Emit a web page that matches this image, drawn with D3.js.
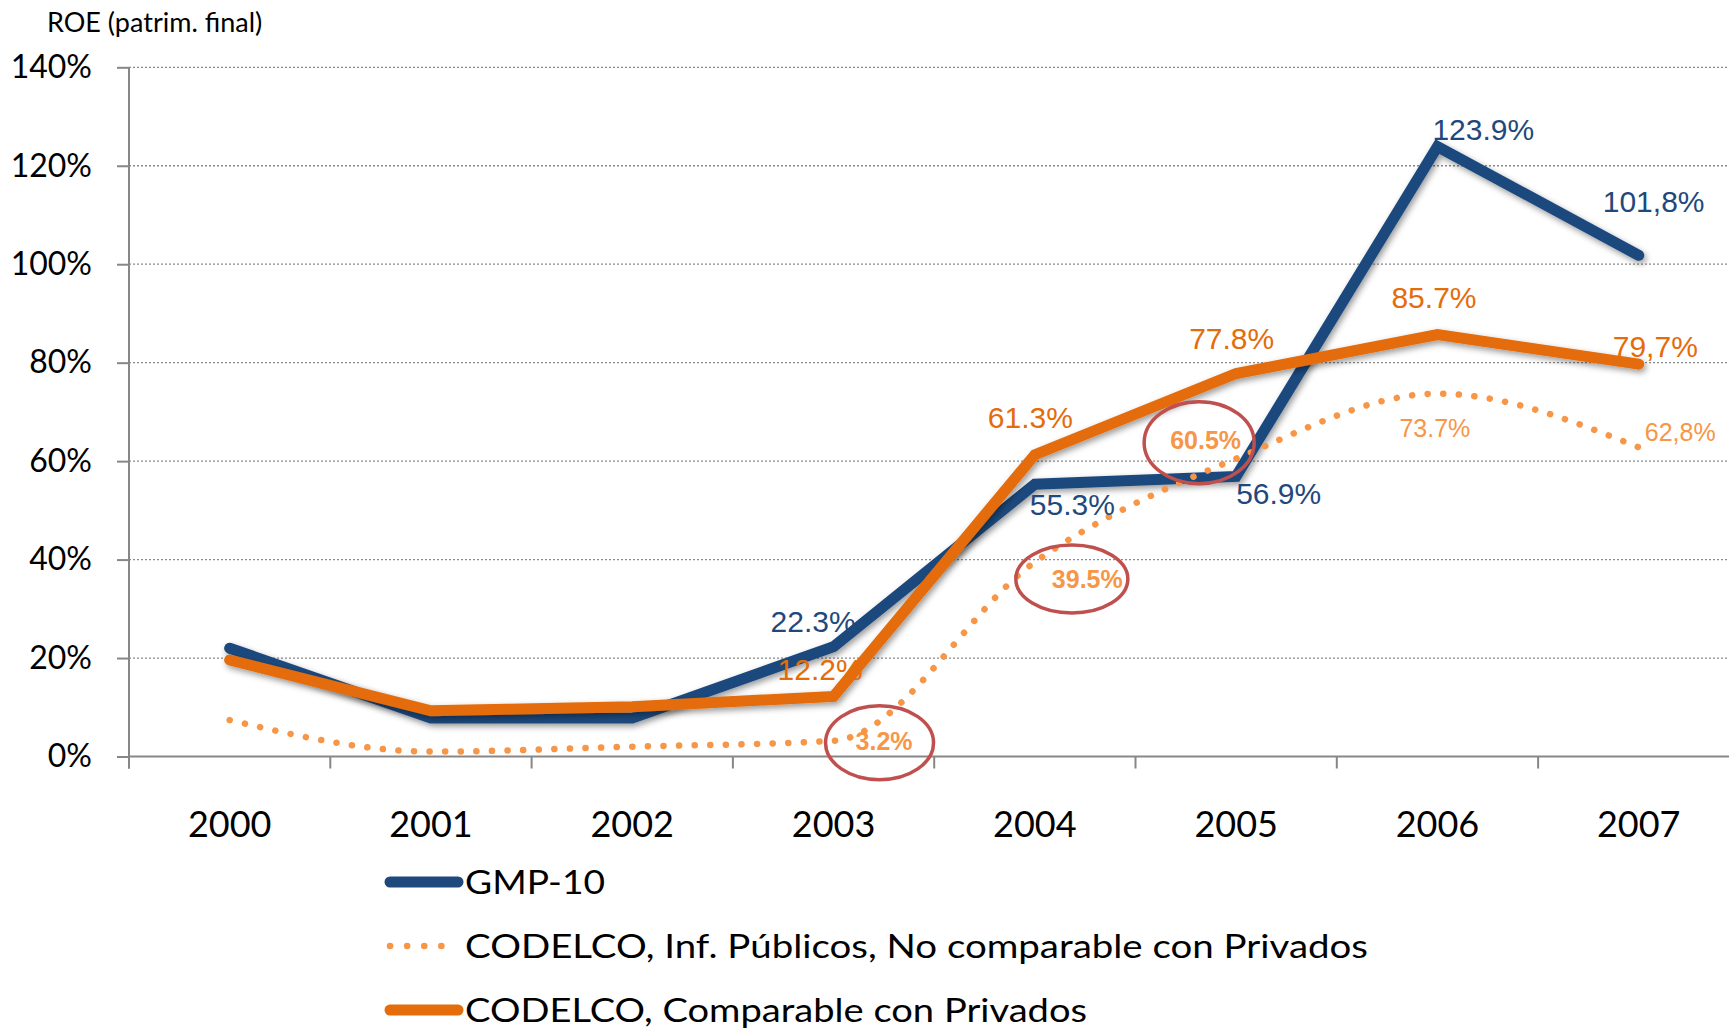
<!DOCTYPE html>
<html>
<head>
<meta charset="utf-8">
<script src="https://cdn.jsdelivr.net/npm/d3@7"></script>
<style>
  html, body { margin: 0; padding: 0; background: #fff; }
  svg { display: block; }
</style>
</head>
<body>
<div id="chart"></div>
<script>
// Data
const years = ['2000', '2001', '2002', '2003', '2004', '2005', '2006', '2007'];
const gmp10 = [22.0, 7.8, 7.8, 22.3, 55.3, 56.9, 123.9, 101.8];
const codelcoPublic = [7.4, 1.0, 2.0, 3.2, 39.5, 60.5, 73.7, 62.8];
const codelcoComparable = [19.6, 9.3, 10.1, 12.2, 61.3, 77.8, 85.7, 79.7];
const gmp10Labels = [null, null, null, '22.3%', '55.3%', '56.9%', '123.9%', '101,8%'];
const publicLabels = [null, null, null, '3.2%', '39.5%', '60.5%', '73.7%', '62,8%'];
const comparableLabels = [null, null, null, '12.2%', '61.3%', '77.8%', '85.7%', '79,7%'];
const yTicks = [0, 20, 40, 60, 80, 100, 120, 140];
const legendNames = ['GMP-10', 'CODELCO, Inf. Públicos, No comparable con Privados', 'CODELCO, Comparable con Privados'];

const W = 1729, H = 1030;
const BLUE = '#1f497d', ORANGE = '#e46c0a', LIGHT = '#f79646', RED = '#c0504d', AXIS = '#878787';

const svg = d3.select('#chart').append('svg').attr('width', W).attr('height', H);

const defs = svg.append('defs');
const shadow = defs.append('filter').attr('id', 'shadow')
  .attr('x', '-10%').attr('y', '-10%').attr('width', '120%').attr('height', '130%');
shadow.append('feDropShadow').attr('dx', 2).attr('dy', 3).attr('stdDeviation', 3)
  .attr('flood-color', '#000').attr('flood-opacity', 0.4);

// Scales
const left = 129, band = 201.3;
const x = d3.scaleBand().domain(years).range([left, left + band * years.length]).padding(0);
const cx = (i) => x(years[i]) + x.bandwidth() / 2;
const y = d3.scaleLinear().domain([0, 140]).range([756.5, 67.3]);

// Gridlines
svg.append('g').selectAll('line').data(yTicks.filter((d) => d > 0)).enter().append('line')
  .attr('x1', left).attr('x2', W).attr('y1', (d) => y(d)).attr('y2', (d) => y(d))
  .attr('stroke', '#8a8a8a').attr('stroke-width', 1.3).attr('stroke-dasharray', '2 2');

// Y axis
const yAxis = svg.append('g').attr('transform', `translate(${left},0)`)
  .call(d3.axisLeft(y).tickValues(yTicks).tickSize(12).tickPadding(25).tickFormat((d) => d + '%'));
yAxis.select('.domain').remove();
yAxis.selectAll('line').attr('stroke', AXIS).attr('stroke-width', 2);
yAxis.selectAll('text').attr('font-family', 'Lato, sans-serif').attr('font-size', 32).attr('fill', '#000');
svg.append('line').attr('x1', left).attr('x2', left).attr('y1', y(140)).attr('y2', y(0) + 12)
  .attr('stroke', AXIS).attr('stroke-width', 2);

// X axis
svg.append('line').attr('x1', left).attr('x2', W).attr('y1', y(0)).attr('y2', y(0))
  .attr('stroke', AXIS).attr('stroke-width', 2);
svg.append('g').selectAll('line').data(d3.range(years.length + 1)).enter().append('line')
  .attr('x1', (d) => left + d * band).attr('x2', (d) => left + d * band)
  .attr('y1', y(0)).attr('y2', y(0) + 12)
  .attr('stroke', AXIS).attr('stroke-width', 2);
const xAxis = svg.append('g').attr('transform', `translate(0,${y(0)})`)
  .call(d3.axisBottom(x).tickSize(0).tickPadding(80));
xAxis.select('.domain').remove();
xAxis.selectAll('text').attr('font-family', 'Lato, sans-serif').attr('font-size', 36).attr('fill', '#000')
  .attr('dy', 0);

// Title
svg.append('text').attr('x', 47).attr('y', 32).text('ROE (patrim. final)')
  .attr('font-family', 'Lato, sans-serif').attr('font-size', 27).attr('fill', '#000');

// Lines
const straight = d3.line().x((d, i) => cx(i)).y((d) => y(d));
const smooth = d3.line().x((d, i) => cx(i)).y((d) => y(d)).curve(d3.curveMonotoneX);

svg.append('path').datum(gmp10).attr('d', straight).attr('fill', 'none')
  .attr('stroke', BLUE).attr('stroke-width', 11).attr('stroke-linecap', 'round')
  .attr('stroke-linejoin', 'miter').attr('filter', 'url(#shadow)');
svg.append('path').datum(codelcoComparable).attr('d', straight).attr('fill', 'none')
  .attr('stroke', ORANGE).attr('stroke-width', 11).attr('stroke-linecap', 'round')
  .attr('stroke-linejoin', 'miter').attr('filter', 'url(#shadow)');
svg.append('path').datum(codelcoPublic).attr('d', smooth).attr('fill', 'none')
  .attr('stroke', LIGHT).attr('stroke-width', 6.5).attr('stroke-linecap', 'round')
  .attr('stroke-dasharray', '0.1 15.5');

// Data labels (offsets from each point: start anchor, baseline)
const labelOffsets = {
  gmp: [null, null, null, [-63, -15], [-5, 31], [0, 28], [-5, -7], [-36, -43]],
  comp: [null, null, null, [-56, -16], [-47, -27], [-47, -25], [-46, -27], [-26, -7]],
  pub: [null, null, null, [22, 9], [17, 26], [-66, -10], [-38, 43], [6, -6]],
};
const circled = [3, 4, 5];
const ellipseOffsets = { 3: [46, 2, 54, 37], 4: [37, 17, 56, 34], 5: [-37, -16, 55, 41] };

const addLabels = (values, labels, offs, color, size, weightFn) => {
  values.forEach((v, i) => {
    if (!labels[i]) return;
    svg.append('text').attr('x', cx(i) + offs[i][0]).attr('y', y(v) + offs[i][1])
      .text(labels[i]).attr('font-family', '"Liberation Sans", Arial, sans-serif')
      .attr('font-size', size).attr('fill', color).attr('font-weight', weightFn(i));
  });
};
addLabels(gmp10, gmp10Labels, labelOffsets.gmp, BLUE, 30, () => 'normal');
addLabels(codelcoComparable, comparableLabels, labelOffsets.comp, ORANGE, 30, () => 'normal');
addLabels(codelcoPublic, publicLabels, labelOffsets.pub, LIGHT, 25, (i) => (circled.includes(i) ? 'bold' : 'normal'));

// Red circles around the public-report labels
circled.forEach((i) => {
  const e = ellipseOffsets[i];
  svg.append('ellipse').attr('cx', cx(i) + e[0]).attr('cy', y(codelcoPublic[i]) + e[1])
    .attr('rx', e[2]).attr('ry', e[3]).attr('fill', 'none')
    .attr('stroke', RED).attr('stroke-width', 3.5);
});

// Legend
const legendStyles = [
  { color: BLUE, width: 11, dash: null },
  { color: LIGHT, width: 6.5, dash: '0.1 17' },
  { color: ORANGE, width: 11, dash: null },
];
const legendWidths = [140, 903, 622];
const legend = svg.append('g');
legendNames.forEach((name, i) => {
  const ly = 882 + i * 64;
  const s = legendStyles[i];
  const ln = legend.append('line').attr('x1', 390).attr('x2', 458).attr('y1', ly).attr('y2', ly)
    .attr('stroke', s.color).attr('stroke-width', s.width).attr('stroke-linecap', 'round');
  if (s.dash) ln.attr('stroke-dasharray', s.dash);
  legend.append('text').attr('x', 465).attr('y', ly + 12).text(name)
    .attr('font-family', 'Lato, sans-serif').attr('font-size', 33).attr('fill', '#000')
    .attr('textLength', legendWidths[i]).attr('lengthAdjust', 'spacingAndGlyphs');
});
</script>
</body>
</html>
